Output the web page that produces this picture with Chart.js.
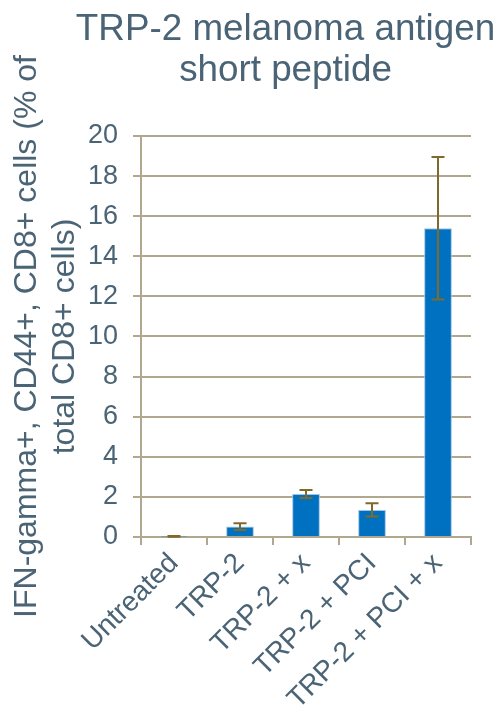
<!DOCTYPE html>
<html>
<head>
<meta charset="utf-8">
<script src="https://cdn.jsdelivr.net/npm/chart.js@4.4.1/dist/chart.umd.min.js"></script>
<style>
html,body{margin:0;padding:0;background:#fff;}
#wrap{width:501px;height:713px;position:relative;}
</style>
</head>
<body>
<div id="wrap"><canvas id="c" width="501" height="713"></canvas></div>
<script>
const categories = ['Untreated', 'TRP-2', 'TRP-2 + x', 'TRP-2 + PCI', 'TRP-2 + PCI + x'];
const values = [0.03, 0.52, 2.15, 1.35, 15.4];
const errors = [0.02, 0.17, 0.2, 0.33, 3.55];
const yTicks = [0, 2, 4, 6, 8, 10, 12, 14, 16, 18, 20];

const textColor = '#4a6476';
const gridColor = '#b1a78f';
const errColor = '#7f6a2c';
const font = 'Liberation Sans, Arial, Helvetica, sans-serif';

const errorBars = {
  id: 'errorBars',
  afterDatasetsDraw(chart) {
    const ctx = chart.ctx;
    const meta = chart.getDatasetMeta(0);
    const y = chart.scales.y;
    ctx.save();
    ctx.strokeStyle = errColor;
    ctx.lineWidth = 2;
    meta.data.forEach((bar, i) => {
      const x = bar.x;
      const yt = y.getPixelForValue(values[i] + errors[i]);
      const yb = y.getPixelForValue(Math.max(0, values[i] - errors[i]));
      const cap = 6.5;
      ctx.beginPath();
      ctx.moveTo(x, yt); ctx.lineTo(x, yb);
      ctx.moveTo(x - cap, yt); ctx.lineTo(x + cap, yt);
      ctx.moveTo(x - cap, yb); ctx.lineTo(x + cap, yb);
      ctx.stroke();
    });
    ctx.restore();
  }
};

const titleShift = {
  id: 'titleShift',
  afterLayout(chart) {
    const t = chart.titleBlock;
    if (t) { t.left += 48; t.right += 48; }
  }
};

new Chart(document.getElementById('c'), {
  type: 'bar',
  data: {
    labels: categories,
    datasets: [{
      data: values,
      backgroundColor: '#0070c0',
      borderColor: '#9dc3e6',
      borderWidth: {top: 1, left: 1, right: 1, bottom: 0},
      barPercentage: 0.84,
      categoryPercentage: 0.5
    }]
  },
  options: {
    responsive: false,
    animation: false,
    layout: {padding: {left: 4, right: 30, top: 4, bottom: -5}},
    plugins: {
      legend: {display: false},
      tooltip: {enabled: false},
      title: {
        display: true,
        text: ['TRP-2 melanoma antigen', 'short peptide'],
        color: textColor,
        font: {family: font, size: 36.8, weight: 'normal', lineHeight: 1.1},
        padding: {top: 6, bottom: 45}
      }
    },
    scales: {
      x: {
        grid: {display: true, drawOnChartArea: false, offset: true, color: gridColor, lineWidth: 2, tickLength: 8},
        border: {color: gridColor, width: 2},
        ticks: {color: textColor, font: {family: font, size: 28}, maxRotation: 45, minRotation: 45, padding: 2}
      },
      y: {
        min: 0, max: 20,
        afterBuildTicks(axis) { axis.ticks = yTicks.map(v => ({value: v})); },
        afterFit(axis) { axis.width = 137; },
        grid: {color: gridColor, lineWidth: 2, tickLength: 8},
        border: {color: gridColor, width: 2},
        ticks: {color: textColor, font: {family: font, size: 27}, padding: 15},
        title: {
          display: true,
          text: ['IFN-gamma+, CD44+, CD8+ cells (% of', 'total CD8+ cells)'],
          color: textColor,
          font: {family: font, size: 32, weight: 'normal', lineHeight: 1.2},
          padding: 4
        }
      }
    }
  },
  plugins: [errorBars, titleShift]
});
</script>
</body>
</html>
